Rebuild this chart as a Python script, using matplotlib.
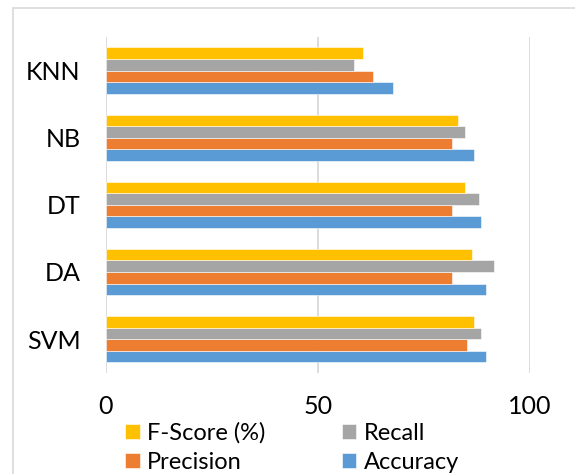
import numpy as np
import matplotlib.pyplot as plt
from matplotlib.patches import Rectangle

# classifiers, bottom to top as drawn
models = ['SVM', 'DA', 'DT', 'NB', 'KNN']

accuracy = [89.7, 89.7, 88.4, 86.8, 67.7]
precision = [85.2, 81.6, 81.6, 81.6, 63.0]
recall = [88.5, 91.7, 88.1, 84.7, 58.6]
fscore = [86.9, 86.3, 84.7, 83.1, 60.8]

x_ticks = [0, 50, 100]

plt.rcParams['font.family'] = ['Lato', 'DejaVu Sans']

fig = plt.figure(figsize=(5.75, 4.74), dpi=100)
ax = fig.add_axes([0.1838, 0.2137, 0.7374, 0.7083])

# chart frame (light gray box like the spreadsheet chart)
fig.patches.append(Rectangle((0.0226, -0.2), 1.2, 0.983 + 0.2, transform=fig.transFigure,
                             fill=False, edgecolor='#D9D9D9', linewidth=1.2))

y = np.arange(len(models))
h = 0.172
series = [(accuracy, 'Accuracy', '#5B9BD5', -1.5),
          (precision, 'Precision', '#ED7D31', -0.5),
          (recall, 'Recall', '#A5A5A5', 0.5),
          (fscore, 'F-Score (%)', '#FFC000', 1.5)]
bars = {}
for vals, name, col, off in series:
    bars[name] = ax.barh(y + off * h, vals, height=h, color=col, label=name,
                         edgecolor='white', linewidth=0.4, zorder=3)

ax.set_xlim(0, 100)
ax.set_ylim(-0.5, len(models) - 0.5)
ax.set_xticks(x_ticks)
ax.set_yticks(y)
ax.set_yticklabels(models)
ax.grid(axis='x', color='#D9D9D9', linewidth=1.3, zorder=0)
for s in ax.spines.values():
    s.set_visible(False)
ax.tick_params(length=0, labelsize=18, colors='black')
ax.tick_params(axis='x', pad=16)
ax.tick_params(axis='y', pad=18)

handles = [bars['F-Score (%)'], bars['Precision'], bars['Recall'], bars['Accuracy']]
labels = ['F-Score (%)', 'Precision', 'Recall', 'Accuracy']
fig.legend(handles, labels, ncol=2, loc='center left', bbox_to_anchor=(0.2174, 0.0559),
           frameon=False, fontsize=17, handlelength=0.62, handleheight=0.62,
           handletextpad=0.3, columnspacing=3.25, labelspacing=0.36, borderpad=0,
           borderaxespad=0)

fig.savefig('out.png', dpi=100)
